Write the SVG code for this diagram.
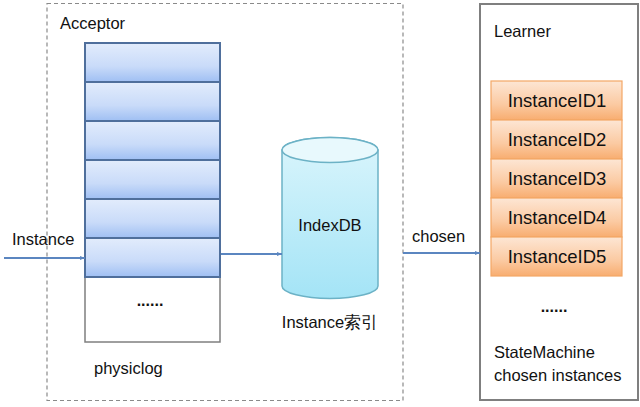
<svg xmlns="http://www.w3.org/2000/svg" width="640" height="407" viewBox="0 0 640 407">
<defs>
<linearGradient id="gBlue" x1="0" y1="0" x2="0" y2="1">
<stop offset="0" stop-color="#e2ecfc"/>
<stop offset="0.6" stop-color="#c9dbf9"/>
<stop offset="1" stop-color="#9fbff3"/>
</linearGradient>
<linearGradient id="gOrange" x1="0" y1="0" x2="0" y2="1">
<stop offset="0" stop-color="#fde6d4"/>
<stop offset="0.6" stop-color="#fbcaa2"/>
<stop offset="1" stop-color="#f8ad70"/>
</linearGradient>
<linearGradient id="gCyl" x1="0" y1="0" x2="0" y2="1">
<stop offset="0" stop-color="#daf5fc"/>
<stop offset="1" stop-color="#a4e4f6"/>
</linearGradient>
<marker id="arr" viewBox="0 0 10 10" refX="10" refY="5" markerWidth="6" markerHeight="5" orient="auto" markerUnits="userSpaceOnUse">
<path d="M0,1 L10,5 L0,9 Z" fill="#5b86c0"/>
</marker>
</defs>
<style>
text{font-family:"Liberation Sans",Arial,sans-serif;fill:#111;}
.lbl{font-size:16.5px;}
.id{font-size:18.5px;text-anchor:middle;}
.dots{font-size:16px;font-weight:bold;text-anchor:middle;}
.blue{fill:url(#gBlue);stroke:#4f6f9c;stroke-width:2;}
.org{fill:url(#gOrange);stroke:#f3a766;stroke-width:1.2;}
.conn{stroke:#5b86c0;stroke-width:2;fill:none;}
</style>
<rect width="640" height="407" fill="#fff"/>

<g id="acceptor">
<rect x="47" y="3.5" width="356" height="397" fill="none" stroke="#8a8a8a" stroke-width="1.2" stroke-dasharray="4,3"/>
<text class="lbl" x="60" y="29">Acceptor</text>
</g>

<g id="physiclog">
<rect x="85" y="277" width="135" height="65" fill="#fff" stroke="#7f7f7f" stroke-width="1.5"/>
<rect class="blue" x="85" y="43" width="135" height="39"/>
<rect class="blue" x="85" y="82" width="135" height="39"/>
<rect class="blue" x="85" y="121" width="135" height="39"/>
<rect class="blue" x="85" y="160" width="135" height="39"/>
<rect class="blue" x="85" y="199" width="135" height="39"/>
<rect class="blue" x="85" y="238" width="135" height="39"/>
<text class="dots" x="150" y="306">......</text>
<text class="lbl" x="94" y="374">physiclog</text>
</g>

<g id="indexdb">
<path d="M282,150 L282,286 A48,12.5 0 0 0 378,286 L378,150 A48,12.5 0 0 0 282,150 Z" fill="url(#gCyl)" stroke="#6cb2c6" stroke-width="1.5"/>
<ellipse cx="330" cy="150" rx="48" ry="12.5" fill="#e8f9fd" stroke="#6cb2c6" stroke-width="1.5"/>
<text class="lbl" x="330" y="231" text-anchor="middle">IndexDB</text>
<text class="lbl" x="330" y="328" text-anchor="middle" font-family="'Liberation Sans','Noto Sans CJK SC',sans-serif">Instance索引</text>
</g>

<g id="learner">
<rect x="480" y="4" width="158" height="396" fill="#fff" stroke="#7f7f7f" stroke-width="2"/>
<text class="lbl" x="494" y="37">Learner</text>
<rect class="org" x="491" y="81" width="131" height="39"/>
<rect class="org" x="491" y="120" width="131" height="39"/>
<rect class="org" x="491" y="159" width="131" height="39"/>
<rect class="org" x="491" y="198" width="131" height="39"/>
<rect class="org" x="491" y="237" width="131" height="39"/>
<text class="id" x="557" y="107">InstanceID1</text>
<text class="id" x="557" y="146">InstanceID2</text>
<text class="id" x="557" y="185">InstanceID3</text>
<text class="id" x="557" y="224">InstanceID4</text>
<text class="id" x="557" y="263">InstanceID5</text>
<text class="dots" x="554" y="312">......</text>
<text class="lbl" x="494" y="358">StateMachine</text>
<text class="lbl" x="494" y="381">chosen instances</text>
</g>

<g id="connectors">
<line class="conn" x1="4" y1="258" x2="85" y2="258" marker-end="url(#arr)"/>
<text class="lbl" x="12" y="245">Instance</text>
<line class="conn" x1="221" y1="254" x2="282" y2="254" marker-end="url(#arr)"/>
<line class="conn" x1="403" y1="253" x2="480" y2="253" marker-end="url(#arr)"/>
<text class="lbl" x="412" y="242">chosen</text>
</g>
</svg>
